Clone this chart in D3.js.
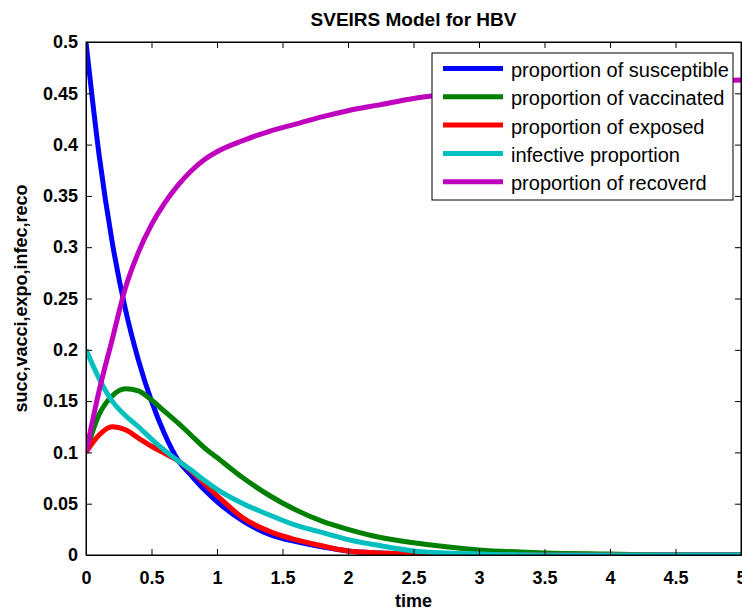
<!DOCTYPE html>
<html>
<head>
<meta charset="utf-8">
<script src="https://cdn.jsdelivr.net/npm/d3@7"></script>
<style>
  body { margin: 0; background: #fff; }
  text { font-family: "Liberation Sans", Arial, sans-serif; }
  .tick text { font-weight: bold; font-size: 18px; fill: #000; }
  .legend text { font-size: 20px; fill: #000; }
</style>
</head>
<body>
<div id="chart"></div>
<script>
// zeitpunkte und werte
const time = [0, 0.1, 0.2, 0.3, 0.4, 0.5, 0.6, 0.7, 0.8, 0.9, 1.0, 1.2, 1.4, 1.6, 1.8, 2.0, 2.25, 2.5, 2.75, 3.0, 3.5, 4.0, 4.5, 5.0];

const susceptible = [0.5, 0.39, 0.305, 0.24, 0.19, 0.15, 0.118, 0.093, 0.078, 0.064, 0.052, 0.033, 0.02, 0.013, 0.008, 0.004, 0.002, 0.001, 0, 0, 0, 0, 0, 0];
const vaccinated = [0.1, 0.137, 0.155, 0.162, 0.16, 0.151, 0.14, 0.129, 0.117, 0.105, 0.095, 0.075, 0.058, 0.044, 0.033, 0.025, 0.017, 0.012, 0.008, 0.005, 0.002, 0.001, 0, 0];
const exposed = [0.1, 0.117, 0.125, 0.122, 0.114, 0.106, 0.099, 0.092, 0.082, 0.07, 0.058, 0.036, 0.023, 0.015, 0.009, 0.004, 0.002, 0.001, 0, 0, 0, 0, 0, 0];
const infective = [0.2, 0.172, 0.15, 0.136, 0.125, 0.113, 0.102, 0.092, 0.083, 0.073, 0.064, 0.05, 0.039, 0.029, 0.022, 0.015, 0.009, 0.004, 0.002, 0.001, 0, 0, 0, 0];
const recovered = [0.1, 0.16, 0.21, 0.26, 0.295, 0.322, 0.343, 0.36, 0.374, 0.385, 0.393, 0.404, 0.413, 0.42, 0.427, 0.433, 0.439, 0.445, 0.449, 0.452, 0.456, 0.459, 0.461, 0.463];

const seriesNames = ["proportion of susceptible", "proportion of vaccinated", "proportion of exposed", "infective proportion", "proportion of recoverd"];
const seriesColors = ["#0000ff", "#008000", "#ff0000", "#00bfbf", "#bf00bf"];

const xTicks = [0, 0.5, 1, 1.5, 2, 2.5, 3, 3.5, 4, 4.5, 5];
const yTicks = [0, 0.05, 0.1, 0.15, 0.2, 0.25, 0.3, 0.35, 0.4, 0.45, 0.5];

const allSeries = [susceptible, vaccinated, exposed, infective, recovered];

const width = 742, height = 610;
const pLeft = 86, pRight = 741, pTop = 42, pBottom = 555;

const svg = d3.select("#chart").append("svg")
  .attr("width", width)
  .attr("height", height);

const x = d3.scaleLinear().domain([0, 5]).range([pLeft, pRight]);
const y = d3.scaleLinear().domain([0, 0.5]).range([pBottom, pTop]);

const fmt = d => String(+d.toFixed(2));

svg.append("clipPath").attr("id", "plot")
  .append("rect")
  .attr("x", pLeft).attr("y", pTop - 3)
  .attr("width", pRight - pLeft + 3).attr("height", pBottom - pTop + 3);

// kurven
const line = d3.line()
  .x((d, i) => x(time[i]))
  .y(d => y(d))
  .curve(d3.curveMonotoneX);

svg.append("g")
  .attr("clip-path", "url(#plot)")
  .selectAll("path")
  .data(allSeries)
  .enter().append("path")
  .attr("d", line)
  .attr("fill", "none")
  .attr("stroke", (d, i) => seriesColors[i])
  .attr("stroke-width", 5)
  .attr("stroke-linejoin", "round");

// achsen, ticks nach innen
svg.append("g")
  .attr("transform", `translate(0,${pBottom})`)
  .call(d3.axisBottom(x).tickValues(xTicks).tickFormat(fmt).tickSizeInner(-6).tickSizeOuter(0).tickPadding(16));

svg.append("g")
  .attr("transform", `translate(${pLeft},0)`)
  .call(d3.axisLeft(y).tickValues(yTicks).tickFormat(fmt).tickSizeInner(-6).tickSizeOuter(0).tickPadding(8));

svg.append("g")
  .attr("transform", `translate(0,${pTop})`)
  .call(d3.axisTop(x).tickValues(xTicks).tickFormat("").tickSizeInner(-6).tickSizeOuter(0));

svg.append("g")
  .attr("transform", `translate(${pRight},0)`)
  .call(d3.axisRight(y).tickValues(yTicks).tickFormat("").tickSizeInner(-6).tickSizeOuter(0));

svg.selectAll(".domain, .tick line").attr("stroke", "#000");

svg.append("rect")
  .attr("x", pLeft).attr("y", pTop)
  .attr("width", pRight - pLeft).attr("height", pBottom - pTop)
  .attr("fill", "none")
  .attr("stroke", "#000");

// titel und beschriftung
svg.append("text")
  .attr("x", (pLeft + pRight) / 2)
  .attr("y", 26)
  .attr("text-anchor", "middle")
  .style("font-weight", "bold")
  .style("font-size", "19px")
  .text("SVEIRS Model for HBV");

svg.append("text")
  .attr("x", (pLeft + pRight) / 2)
  .attr("y", 607)
  .attr("text-anchor", "middle")
  .style("font-weight", "bold")
  .style("font-size", "18px")
  .text("time");

svg.append("text")
  .attr("transform", `translate(27,${(pTop + pBottom) / 2}) rotate(-90)`)
  .attr("text-anchor", "middle")
  .style("font-weight", "bold")
  .style("font-size", "18px")
  .text("succ,vacci,expo,infec,reco");

// legende
const legend = svg.append("g").attr("class", "legend");

legend.append("rect")
  .attr("x", 432).attr("y", 53)
  .attr("width", 301).attr("height", 147)
  .attr("fill", "#fff")
  .attr("stroke", "#000");

seriesNames.forEach(function(name, i) {
  const ly = 68.5 + i * 28.3;
  legend.append("line")
    .attr("x1", 443).attr("x2", 503)
    .attr("y1", ly).attr("y2", ly)
    .attr("stroke", seriesColors[i])
    .attr("stroke-width", 5);
  legend.append("text")
    .attr("x", 511)
    .attr("y", ly + 8.5)
    .text(name);
});
</script>
</body>
</html>
